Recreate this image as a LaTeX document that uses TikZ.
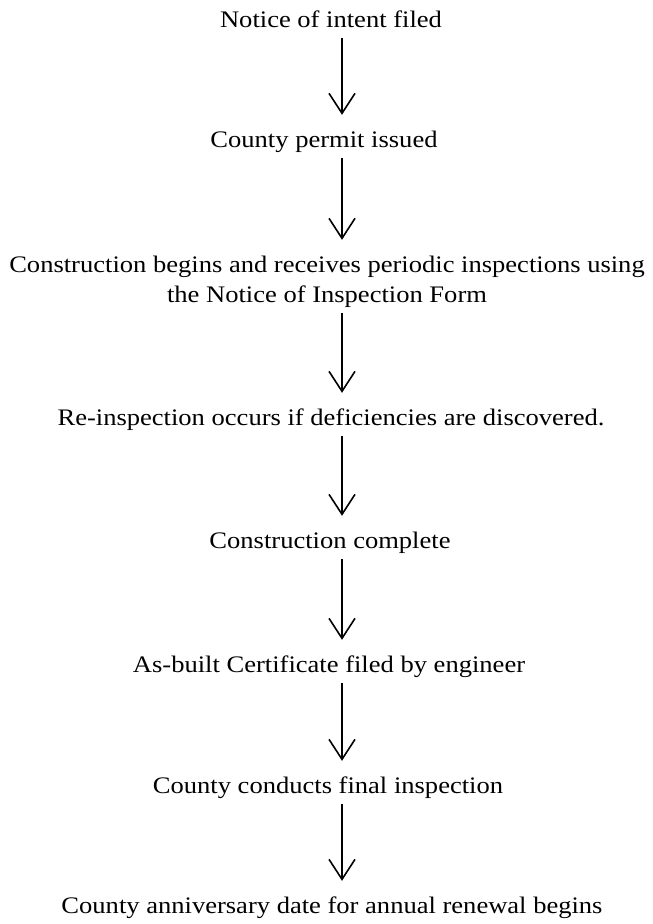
\documentclass[tikz,border=0pt]{standalone}
\usepackage{fontspec}
\setmainfont{Liberation Serif}[FakeStretch=1.12]
\usetikzlibrary{arrows.meta}

\begin{document}
\begin{tikzpicture}[x=1pt,y=1pt,
    stage/.style={anchor=base,inner sep=0pt,text height=17pt,text depth=6pt,
      align=center,font=\fontsize{23.7}{30}\selectfont},
    flow/.style={-{Straight Barb[length=20pt,width=26pt]},line width=1.6pt,
      shorten <=5pt,shorten >=15pt}]
  \useasboundingbox (0,0) rectangle (653,-924);
  \coordinate (col) at (342,0);
  \node[stage] (notice) at (331,-27) {Notice of intent filed};
  \node[stage] (permit) at (324,-147) {County permit issued};
  % two lines: base is on the last line
  \node[stage,text height=47pt] (begins) at (327,-302)
      {Construction begins and receives periodic inspections using\\the Notice of Inspection Form};
  \node[stage] (reinsp) at (331,-425) {Re-inspection occurs if deficiencies are discovered.};
  \node[stage] (complete) at (330,-548) {Construction complete};
  \node[stage] (asbuilt) at (329,-672) {As-built Certificate filed by engineer};
  \node[stage] (final) at (328,-793) {County conducts final inspection};
  \node[stage] (renewal) at (332,-913) {County anniversary date for annual renewal begins};
  \foreach \a/\b in {notice/permit,permit/begins,begins/reinsp,reinsp/complete,
      complete/asbuilt,asbuilt/final,final/renewal}
    \draw[flow] (\a.south -| col) -- (\b.north -| col);
\end{tikzpicture}
\end{document}
